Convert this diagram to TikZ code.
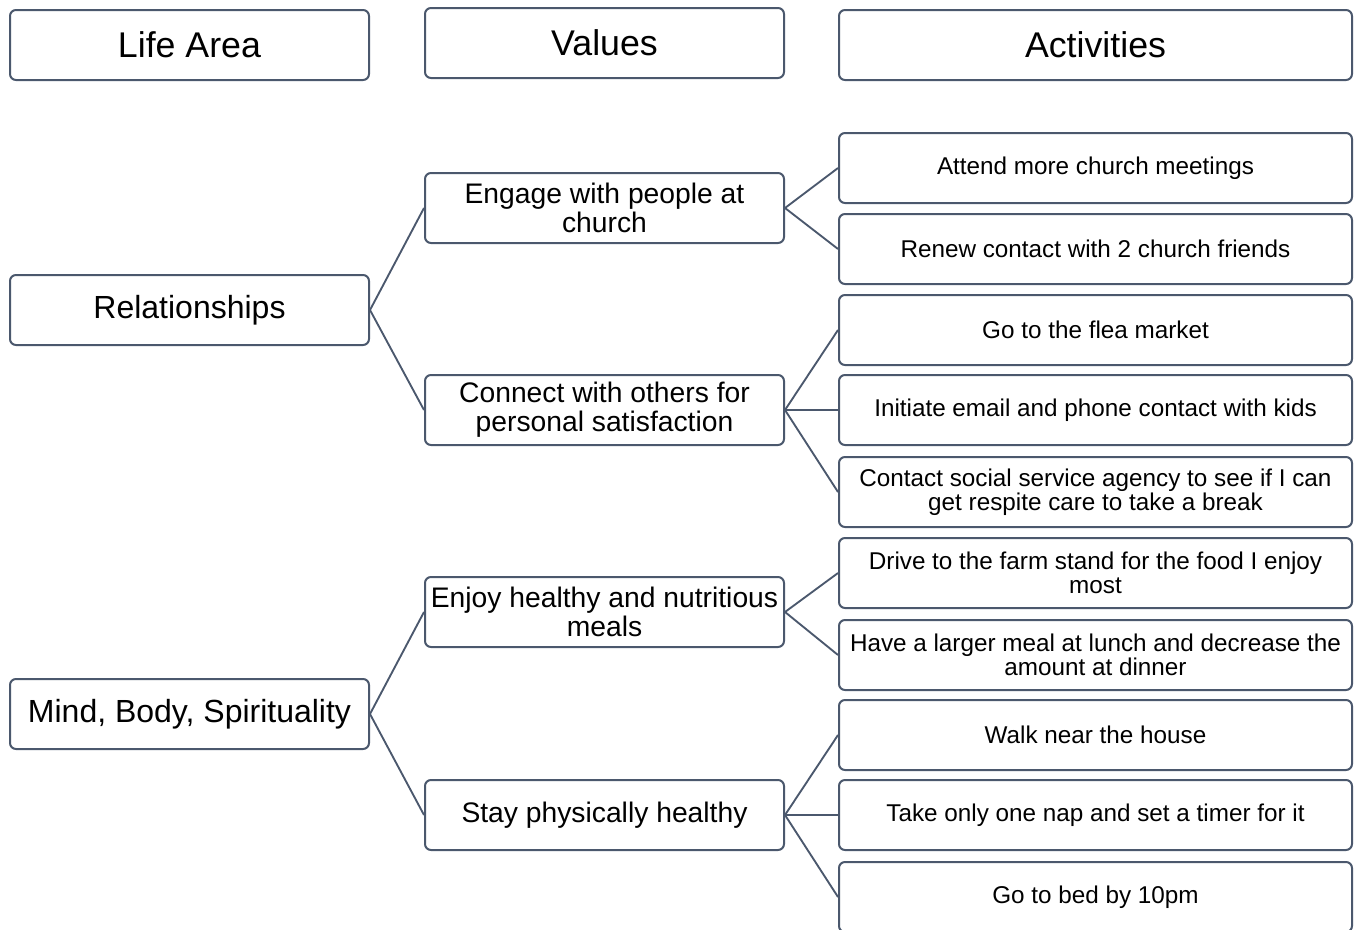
\documentclass[tikz,border=0pt]{standalone}
\usepackage{fontspec}
\setmainfont{Liberation Sans}
\definecolor{edgeslate}{HTML}{4B586D}
\begin{document}
\begin{tikzpicture}[x=0.75pt,y=-0.75pt,
  box/.style={draw=edgeslate, line width=1.5pt, rounded corners=4.5pt, fill=white,
              align=center, inner sep=2pt, minimum height=70*0.75pt},
  narrowbox/.style={box, minimum width=359*0.75pt},
  widebox/.style={box, minimum width=513*0.75pt},
  headtext/.style={font=\fontsize{26.8}{28}\selectfont},
  areatext/.style={font=\fontsize{24}{26}\selectfont},
  valuetext/.style={font=\fontsize{21.2}{21.6}\selectfont},
  acttext/.style={font=\fontsize{18.2}{18}\selectfont},
  link/.style={draw=edgeslate, line width=1.4pt}]
\useasboundingbox (0,0) rectangle (1360,929);
\clip (0,0) rectangle (1360,929);

% column headings
\node[narrowbox, headtext] (hLife) at (189.5,45) {Life Area};
\node[narrowbox, headtext] (hVal) at (604.5,43) {Values};
\node[widebox, headtext] (hAct) at (1095.5,45) {Activities};

% life areas
\node[narrowbox, areatext] (rel) at (189.5,310) {Relationships};
\node[narrowbox, areatext] (mbs) at (189.5,714) {Mind, Body, Spirituality};

% values
\node[narrowbox, valuetext] (eng) at (604.5,208) {Engage with people at\\church};
\node[narrowbox, valuetext] (con) at (604.5,410) {Connect with others for\\personal satisfaction};
\node[narrowbox, valuetext] (enj) at (604.5,612) {Enjoy healthy and nutritious\\meals};
\node[narrowbox, valuetext] (stay) at (604.5,815) {Stay physically healthy};

% activities
\node[widebox, acttext] (a1) at (1095.5,168) {Attend more church meetings};
\node[widebox, acttext] (a2) at (1095.5,249) {Renew contact with 2 church friends};
\node[widebox, acttext] (a3) at (1095.5,330) {Go to the flea market};
\node[widebox, acttext] (a4) at (1095.5,410) {Initiate email and phone contact with kids};
\node[widebox, acttext] (a5) at (1095.5,492) {Contact social service agency to see if I can\\get respite care to take a break};
\node[widebox, acttext] (a6) at (1095.5,573) {Drive to the farm stand for the food I enjoy\\most};
\node[widebox, acttext] (a7) at (1095.5,655) {Have a larger meal at lunch and decrease the\\amount at dinner};
\node[widebox, acttext] (a8) at (1095.5,735) {Walk near the house};
\node[widebox, acttext] (a9) at (1095.5,815) {Take only one nap and set a timer for it};
\node[widebox, acttext] (a10) at (1095.5,897) {Go to bed by 10pm};

% connectors
\draw[link] (rel.east) -- (eng.west);
\draw[link] (rel.east) -- (con.west);
\draw[link] (mbs.east) -- (enj.west);
\draw[link] (mbs.east) -- (stay.west);
\draw[link] (eng.east) -- (a1.west);
\draw[link] (eng.east) -- (a2.west);
\draw[link] (con.east) -- (a3.west);
\draw[link] (con.east) -- (a4.west);
\draw[link] (con.east) -- (a5.west);
\draw[link] (enj.east) -- (a6.west);
\draw[link] (enj.east) -- (a7.west);
\draw[link] (stay.east) -- (a8.west);
\draw[link] (stay.east) -- (a9.west);
\draw[link] (stay.east) -- (a10.west);
\end{tikzpicture}
\end{document}
